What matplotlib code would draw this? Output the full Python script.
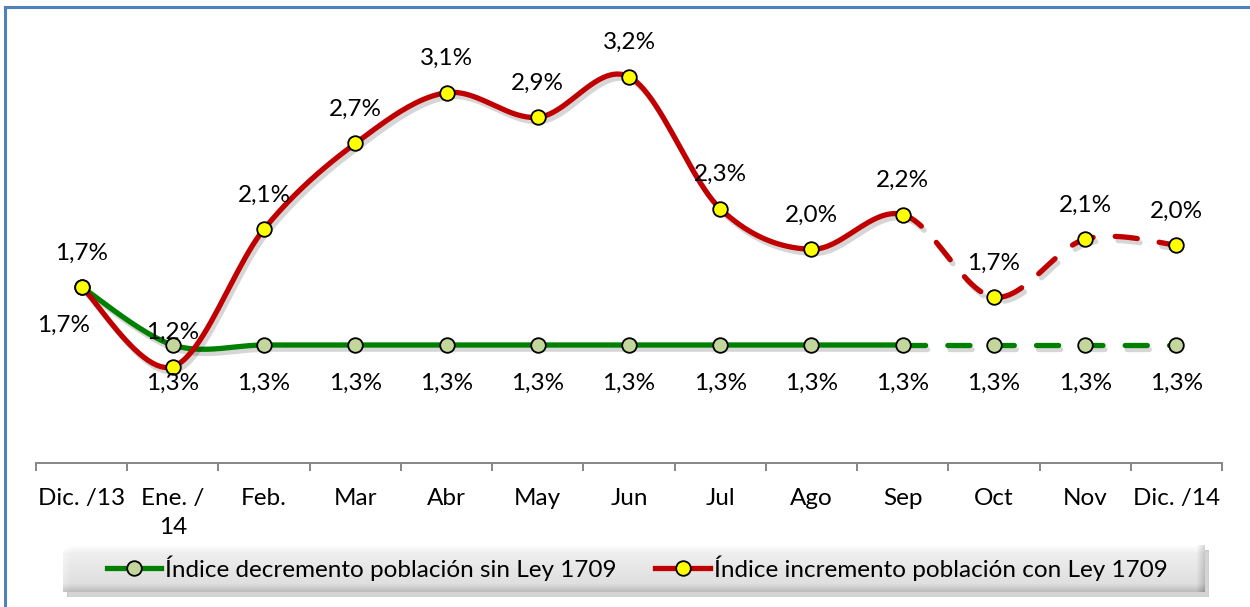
import numpy as np
import matplotlib
matplotlib.use("Agg")
import matplotlib.pyplot as plt
import matplotlib.patheffects as pe
from matplotlib.lines import Line2D

plt.rcParams['font.family'] = ['Lato', 'DejaVu Sans']

categories = ['Dic. /13', 'Ene. /\n14', 'Feb.', 'Mar', 'Abr', 'May', 'Jun',
              'Jul', 'Ago', 'Sep', 'Oct', 'Nov', 'Dic. /14']
sin_ley = [1.70, 1.30, 1.30, 1.30, 1.30, 1.30, 1.30, 1.30, 1.30, 1.30, 1.30, 1.30, 1.30]
con_ley = [1.70, 1.15, 2.10, 2.69, 3.04, 2.87, 3.15, 2.24, 1.96, 2.20, 1.63, 2.03, 1.99]
sin_labels = ['1,7%'] + ['1,3%'] * 12
con_labels = ['1,7%', '1,2%', '2,1%', '2,7%', '3,1%', '2,9%', '3,2%',
              '2,3%', '2,0%', '2,2%', '1,7%', '2,1%', '2,0%']
name_sin = 'Índice decremento población sin Ley 1709'
name_con = 'Índice incremento población con Ley 1709'
split = 9  # dashed from Sep onward

GREEN = '#008000'
RED = '#C00000'
FS = 17.5


def smooth(x, y, n=25):
    # Bezier smoothing like the spreadsheet "smoothed line"
    pts = np.column_stack([x, y]).astype(float)
    P = np.vstack([pts[0], pts, pts[-1]])
    out = []
    t = np.linspace(0, 1, n)[:, None]
    for i in range(len(pts) - 1):
        p0, p1, p2, p3 = P[i], P[i + 1], P[i + 2], P[i + 3]
        c1 = p1 + (p2 - p0) / 6
        c2 = p2 - (p3 - p1) / 6
        seg = (1 - t) ** 3 * p1 + 3 * (1 - t) ** 2 * t * c1 + 3 * (1 - t) * t ** 2 * c2 + t ** 3 * p2
        out.append(seg if i == 0 else seg[1:])
    return np.vstack(out), n - 1


fig = plt.figure(figsize=(12.5, 6.07), dpi=100)
ax = fig.add_axes([36 / 1250, 1 - 463 / 607, 1186 / 1250, 463 / 607])
ax.set_xlim(-0.5, 12.5)
ax.set_ylim(1.3 - 118 / 145, 1.3 + 345 / 145)

x = np.arange(len(categories))
shadow = [pe.SimpleLineShadow(offset=(2, -3), shadow_color='k', alpha=0.16), pe.Normal()]

for vals, col in [(sin_ley, GREEN), (con_ley, RED)]:
    curve, step = smooth(x, vals)
    k = split * step
    ax.plot(curve[:k + 1, 0], curve[:k + 1, 1], color=col, lw=3.8,
            solid_capstyle='round', path_effects=shadow, zorder=2)
    ax.plot(curve[k:, 0], curve[k:, 1], color=col, lw=3.8, linestyle=(0, (4.2, 4.2)),
            dash_capstyle='round', path_effects=shadow, zorder=2)

ax.plot(x, sin_ley, 'o', ms=10.5, mfc='#C3D69B', mec='black', mew=1.3, zorder=4)
ax.plot(x, con_ley, 'o', ms=10.5, mfc='#FFFF00', mec='black', mew=1.3, zorder=5)

# data labels
for i, (v, s) in enumerate(zip(con_ley, con_labels)):
    ax.annotate(s, (i, v), xytext=(0, 34), textcoords='offset pixels',
                ha='center', va='center', fontsize=FS, zorder=6)
for i, (v, s) in enumerate(zip(sin_ley, sin_labels)):
    dx = -18 if i == 0 else 0
    ax.annotate(s, (i, v), xytext=(dx, -38), textcoords='offset pixels',
                ha='center', va='center', fontsize=FS, zorder=6)

# axes styling
for s in ['left', 'right', 'top']:
    ax.spines[s].set_visible(False)
ax.spines['bottom'].set_color('#868686')
ax.spines['bottom'].set_linewidth(1.4)
ax.set_yticks([])
ax.set_xticks(x)
ax.set_xticklabels(categories, fontsize=FS, linespacing=1.5)
ax.tick_params(axis='x', which='major', length=0, pad=18)
ax.set_xticks(np.arange(-0.5, 13, 1), minor=True)
ax.tick_params(axis='x', which='minor', length=6, width=1.4, color='#868686')

# legend box with bevel and shadow
lx0, lx1, ly0, ly1 = 63, 1205, 545, 592
W, H = lx1 - lx0, ly1 - ly0
sh = fig.add_axes([(lx0 + 4) / 1250, 1 - (ly1 + 5) / 607, W / 1250, H / 607])
sh.set_axis_off()
sh.add_patch(plt.Rectangle((0, 0), 1, 1, transform=sh.transAxes, color='#A0A0A0', alpha=0.45))
box = fig.add_axes([lx0 / 1250, 1 - ly1 / 607, W / 1250, H / 607])
yy = np.linspace(0, 1, H)[:, None]
xx = np.linspace(0, 1, W)[None, :]
img = 0.95 - 0.09 * yy + 0 * xx
b = 8
ramp_l = np.clip(1 - np.arange(W) / b, 0, 1)[None, :]
ramp_r = np.clip(1 - np.arange(W)[::-1] / b, 0, 1)[None, :]
ramp_t = np.clip(1 - np.arange(H) / b, 0, 1)[:, None]
ramp_b = np.clip(1 - np.arange(H)[::-1] / b, 0, 1)[:, None]
img = img + 0.05 * ramp_t + 0.03 * ramp_l - 0.15 * ramp_r - 0.12 * ramp_b
img = np.clip(img, 0, 1)
box.imshow(np.dstack([img, img, img]), aspect='auto', extent=(0, 1, 0, 1))
box.set_axis_off()

handles = [
    Line2D([], [], color=GREEN, lw=3.8, marker='o', ms=10.5, mfc='#C3D69B', mec='black', mew=1.3),
    Line2D([], [], color=RED, lw=3.8, marker='o', ms=10.5, mfc='#FFFF00', mec='black', mew=1.3),
]
fig.legend(handles, [name_sin, name_con], loc='center', ncol=2, frameon=False,
           bbox_to_anchor=(637 / 1250, 1 - 568 / 607), fontsize=FS,
           handlelength=2.25, handletextpad=0.15, columnspacing=1.6)

# outer frame (left and top edges)
fig.add_artist(Line2D([5 / 1250, 5 / 1250], [0, 1 - 7 / 607], transform=fig.transFigure,
                      color='#4F81BD', lw=2.2))
fig.add_artist(Line2D([5 / 1250, 1], [1 - 7 / 607, 1 - 7 / 607], transform=fig.transFigure,
                      color='#4F81BD', lw=2.2))

fig.savefig('out.png', dpi=100)
